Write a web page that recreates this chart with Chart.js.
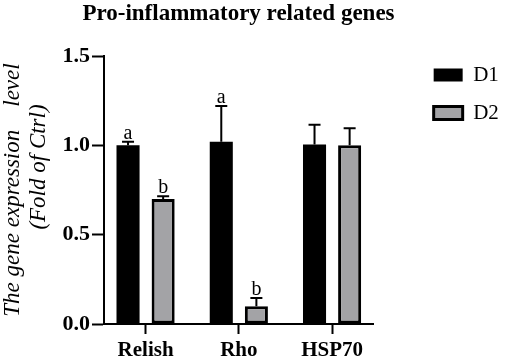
<!DOCTYPE html>
<html>
<head>
<meta charset="utf-8">
<script src="https://cdn.jsdelivr.net/npm/chart.js@4/dist/chart.umd.min.js"></script>
<style>
  body { margin: 0; background: #fff; }
  #wrap { width: 510px; height: 362px; position: relative; }
</style>
</head>
<body>
<div id="wrap"><canvas id="gene-chart"></canvas></div>
<script>
// 資料
const genes = ["Relish", "Rho", "HSP70"];
const d1Values = [1.0, 1.02, 1.005];
const d1Errors = [0.02, 0.2, 0.11];
const d1Letters = ["a", "a", ""];
const d2Values = [0.7, 0.1, 1.0];
const d2Errors = [0.015, 0.045, 0.095];
const d2Letters = ["b", "b", ""];
const yTicks = [0, 0.5, 1.0, 1.5];

const serif = "'Liberation Serif', 'Times New Roman', serif";
Chart.defaults.font.family = serif;
Chart.defaults.color = "#000";

// 誤差線 + 顯著性字母
const errorBarPlugin = {
  id: "errorBars",
  afterDatasetsDraw(chart) {
    const { ctx } = chart;
    const yScale = chart.scales.y;
    chart.data.datasets.forEach((ds, di) => {
      const meta = chart.getDatasetMeta(di);
      meta.data.forEach((bar, i) => {
        const v = ds.data[i].y;
        const top = yScale.getPixelForValue(v + ds.errors[i]);
        const base = yScale.getPixelForValue(v);
        ctx.save();
        ctx.strokeStyle = "#000";
        ctx.lineWidth = 2;
        ctx.beginPath();
        ctx.moveTo(bar.x, base);
        ctx.lineTo(bar.x, top);
        ctx.moveTo(bar.x - 6, top);
        ctx.lineTo(bar.x + 6, top);
        ctx.stroke();
        if (ds.letters[i]) {
          ctx.fillStyle = "#000";
          ctx.font = `20px ${serif}`;
          ctx.textAlign = "center";
          ctx.textBaseline = "alphabetic";
          ctx.fillText(ds.letters[i], bar.x, top - 3);
        }
        ctx.restore();
      });
    });
  },
};

const ctx = document.getElementById("gene-chart");
new Chart(ctx, {
  type: "bar",
  data: {
    datasets: [
      {
        label: "D1",
        data: genes.map((g, i) => ({ x: i, y: d1Values[i] })),
        errors: d1Errors,
        letters: d1Letters,
        backgroundColor: "#000",
        borderColor: "#000",
        borderWidth: 0,
        yAxisID: "y",
        xAxisID: "x",
      },
      {
        label: "D2",
        data: genes.map((g, i) => ({ x: i, y: d2Values[i] })),
        errors: d2Errors,
        letters: d2Letters,
        backgroundColor: "#a3a3a6",
        borderColor: "#000",
        borderWidth: 3,
        borderSkipped: false,
        yAxisID: "y",
        xAxisID: "x",
      },
    ],
  },
  options: {
    responsive: true,
    maintainAspectRatio: false,
    animation: false,
    categoryPercentage: 0.753,
    barPercentage: 0.657,
    layout: { padding: { top: 0, left: 0, right: 10, bottom: 0 } },
    plugins: {
      title: {
        display: true,
        fullSize: true,
        // 尾端空白讓標題往左偏，對齊原圖
        text: "Pro-inflammatory related genes    ",
        font: { size: 23, weight: "bold" },
        color: "#000",
        padding: { top: 0, bottom: 28.4 },
      },
      legend: {
        position: "right",
        align: "start",
        title: { display: true, text: "", font: { size: 12 }, padding: { top: 33.1, bottom: 0 } },
        labels: {
          boxWidth: 29,
          boxHeight: 13,
          padding: 17,
          color: "#000",
          font: { size: 21 },
        },
      },
      tooltip: { enabled: false },
    },
    scales: {
      x: {
        type: "linear",
        offset: false,
        min: -0.446,
        max: 2.446,
        afterBuildTicks: (scale) => {
          scale.ticks = genes.map((g, i) => ({ value: i }));
        },
        afterFit: (scale) => {
          scale.height = 38;
        },
        ticks: {
          callback: (v) => genes[v],
          font: { size: 21, weight: "bold" },
          color: "#000",
          padding: 3.5,
          maxRotation: 0,
        },
        grid: {
          offset: false,
          drawOnChartArea: false,
          drawTicks: true,
          tickLength: 10,
          tickColor: "#000",
          tickWidth: 2,
        },
        border: { color: "#000", width: 2 },
      },
      y: {
        min: 0,
        max: 1.5,
        afterBuildTicks: (scale) => {
          scale.ticks = yTicks.map((v) => ({ value: v }));
        },
        afterFit: (scale) => {
          scale.width = 104;
        },
        ticks: {
          callback: (v) => v.toFixed(1),
          font: { size: 22, weight: "bold" },
          color: "#000",
          padding: 2,
        },
        grid: {
          drawOnChartArea: false,
          drawTicks: true,
          tickLength: 12,
          tickColor: "#000",
          tickWidth: 2,
        },
        border: { color: "#000", width: 2 },
        title: {
          display: true,
          text: ["The gene expression    level", "        (Fold of Ctrl)"],
          font: { size: 23, style: "italic", lineHeight: 1.13 },
          color: "#000",
          padding: { top: 0, bottom: 0 },
        },
      },
      // 右側留白給圖例
      yR: {
        type: "linear",
        position: "right",
        display: true,
        afterFit: (scale) => {
          scale.width = 43;
        },
        ticks: { display: false },
        grid: { display: false },
        border: { display: false },
      },
    },
  },
  plugins: [errorBarPlugin],
});
</script>
</body>
</html>
